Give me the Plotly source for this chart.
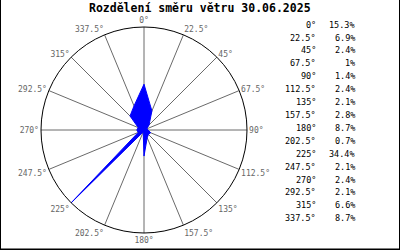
import plotly.graph_objects as go

directions = [0, 22.5, 45, 67.5, 90, 112.5, 135, 157.5, 180, 202.5, 225, 247.5, 270, 292.5, 315, 337.5]
dir_labels = ["0°", "22.5°", "45°", "67.5°", "90°", "112.5°", "135°", "157.5°",
              "180°", "202.5°", "225°", "247.5°", "270°", "292.5°", "315°", "337.5°"]
percent = [15.3, 6.9, 2.4, 1, 1.4, 2.4, 2.1, 2.8, 8.7, 0.7, 34.4, 2.1, 2.4, 2.1, 6.6, 8.7]
title_text = "Rozdělení směru větru 30.06.2025"

W, H = 400, 250
cx, cy, R = 144, 130, 103

fig = go.Figure()
fig.add_trace(go.Scatterpolar(
    r=percent + [percent[0]],
    theta=directions + [directions[0]],
    mode="lines",
    fill="toself",
    fillcolor="#0000ff",
    line=dict(color="#0000ff", width=1),
    hoverinfo="skip",
))

mono = "DejaVu Sans Mono"
annotations = [dict(
    text="<b>" + title_text + "</b>", x=0.5, y=1 - 7.5 / H, xref="paper", yref="paper",
    xanchor="center", yanchor="middle", showarrow=False,
    font=dict(family=mono, size=11.5, color="black"))]

row0, step = 24.7, 12.9
for i, (lab, p) in enumerate(zip(dir_labels, percent)):
    yy = 1 - (row0 + i * step) / H
    annotations.append(dict(text=lab, x=318 / W, y=yy, xref="paper", yref="paper",
                            xanchor="right", yanchor="middle", showarrow=False,
                            font=dict(family=mono, size=8.5, color="black")))
    annotations.append(dict(text=f"{p:g}%", x=357 / W, y=yy, xref="paper", yref="paper",
                            xanchor="right", yanchor="middle", showarrow=False,
                            font=dict(family=mono, size=8.5, color="black")))

fig.update_layout(
    width=W, height=H,
    margin=dict(l=0, r=0, t=0, b=0),
    paper_bgcolor="white",
    plot_bgcolor="white",
    showlegend=False,
    polar=dict(
        domain=dict(x=[(cx - R) / W, (cx + R) / W], y=[(H - cy - R) / H, (H - cy + R) / H]),
        bgcolor="white",
        radialaxis=dict(range=[0, max(percent)], visible=False, showgrid=False),
        angularaxis=dict(
            direction="clockwise", rotation=90,
            tickmode="array", tickvals=directions, ticktext=dir_labels,
            showgrid=True, gridcolor="#6a6a6a", gridwidth=1,
            showline=True, linecolor="black", linewidth=1,
            ticks="", tickfont=dict(family=mono, size=8, color="#666666"),
        ),
    ),
    annotations=annotations,
    shapes=[
        dict(type="line", xref="paper", yref="paper", x0=0, x1=0, y0=0, y1=1, line=dict(color="black", width=2)),
        dict(type="line", xref="paper", yref="paper", x0=1, x1=1, y0=0, y1=1, line=dict(color="black", width=2)),
        dict(type="line", xref="paper", yref="paper", x0=0, x1=1, y0=0, y1=0, line=dict(color="black", width=3)),
    ],
)

fig.write_html("out.html")
